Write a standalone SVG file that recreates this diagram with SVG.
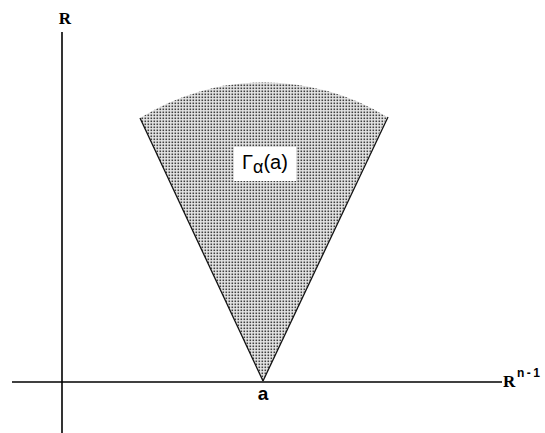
<svg xmlns="http://www.w3.org/2000/svg" width="545" height="433" viewBox="0 0 545 433">
<style>
.axis{stroke:#000;stroke-width:1.6;fill:none}
.side{stroke:#111;stroke-width:1.3;fill:none}
.lbl{font-family:"Liberation Serif",serif;font-weight:bold;fill:#000}
.sans{font-family:"Liberation Sans",sans-serif;fill:#000}
</style>
<defs>
<pattern id="stip" width="3" height="3" patternUnits="userSpaceOnUse">
<rect width="3" height="3" fill="#e6e6e6"/>
<rect x="0.5" y="0.5" width="1.6" height="1.6" fill="#404040"/>
</pattern>
</defs>
<g id="cone">
<path d="M263,381 L140,118 A235,235 0 0 1 387,117 Z" fill="url(#stip)"/>
<rect x="234" y="147" width="62" height="34" fill="#fff"/>
<text class="sans" x="242" y="169" font-size="20">Γ<tspan font-size="18" dy="4">α</tspan><tspan dy="-4">(a)</tspan></text>
</g>
<g id="connectors">
<line class="axis" x1="62" y1="32" x2="62" y2="433"/>
<line class="axis" x1="12" y1="382" x2="502" y2="382"/>
<line class="side" x1="140" y1="118" x2="263" y2="381"/>
<line class="side" x1="388" y1="117" x2="263" y2="381"/>
</g>
<g id="labels">
<text class="lbl" x="65" y="24" font-size="17" text-anchor="middle">R</text>
<text class="lbl" x="503" y="387" font-size="17">R</text>
<text class="sans" x="517" y="377" font-size="12" font-weight="bold" letter-spacing="2.5">n-1</text>
<text class="sans" x="263" y="400" font-size="19" font-weight="bold" text-anchor="middle">a</text>
</g>
</svg>
